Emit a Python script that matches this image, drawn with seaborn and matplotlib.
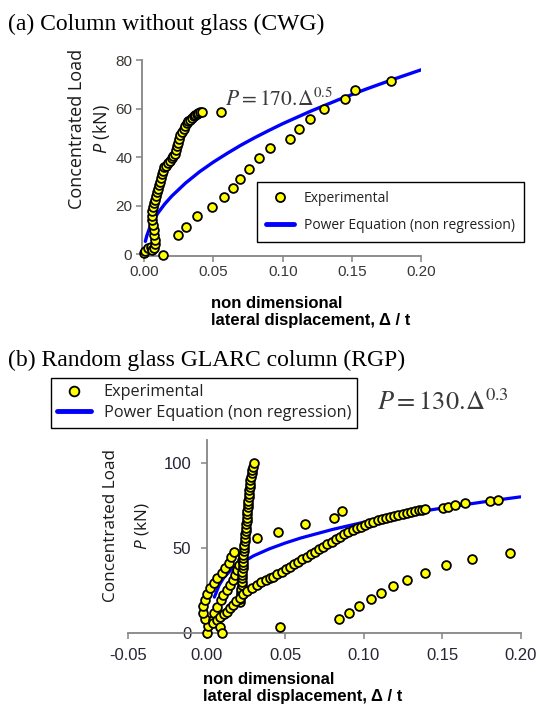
import numpy as np
import pandas as pd
import matplotlib
matplotlib.use("Agg")
import matplotlib.pyplot as plt
import seaborn as sns
from matplotlib import font_manager
from matplotlib.lines import Line2D
from matplotlib.ticker import FormatStrFormatter, FixedLocator

# ---------------- data ----------------
# Panel (a) Column without glass (CWG)
a_load_x = [0.000, 0.001, 0.003, 0.005, 0.006, 0.0075, 0.008, 0.008, 0.0075, 0.007,
            0.0065, 0.0058, 0.0055, 0.0058, 0.0062, 0.007, 0.008, 0.009, 0.0095, 0.0103,
            0.011, 0.0115, 0.012, 0.0127, 0.0135, 0.0145, 0.016, 0.0175, 0.019, 0.020,
            0.0212, 0.0224, 0.023, 0.0236, 0.0242, 0.025, 0.026, 0.0272, 0.0285, 0.0296,
            0.031, 0.032, 0.0335, 0.0344, 0.0358, 0.0368, 0.038, 0.0392, 0.0405, 0.0416]
a_load_y = [0.5, 1.5, 2.5, 3.0, 1.8, 2.5, 4.3, 6.0, 8.0, 10.0,
            12.0, 14.0, 16.0, 18.0, 19.5, 21.0, 22.5, 24.0, 25.5, 27.0,
            28.5, 30.0, 31.5, 33.0, 34.5, 35.8, 36.6, 37.5, 38.5, 39.5,
            40.5, 41.5, 43.0, 44.5, 46.0, 47.5, 49.0, 50.5, 51.8, 53.0,
            54.0, 54.8, 55.5, 56.2, 57.0, 57.4, 57.8, 58.1, 58.5, 58.8]
a_single_x = [0.0557]
a_single_y = [58.6]
a_reload_x = [0.0140, 0.0248, 0.0304, 0.0384, 0.0490, 0.0574, 0.0639, 0.0693, 0.0755,
              0.0829, 0.0908, 0.1052, 0.1114, 0.1200, 0.1300, 0.1448, 0.1522, 0.1780]
a_reload_y = [-0.3, 7.9, 11.5, 15.7, 19.5, 23.6, 27.5, 31.2, 35.3,
              39.6, 43.6, 47.7, 51.7, 55.8, 59.7, 63.8, 67.6, 71.5]
a_power_x = [0.001, 0.002, 0.004, 0.007, 0.01, 0.015, 0.02, 0.03, 0.04, 0.05,
             0.06, 0.07, 0.08, 0.09, 0.10, 0.12, 0.14, 0.16, 0.18, 0.20]
a_power_y = [5.4, 7.6, 10.8, 14.2, 17.0, 20.8, 24.0, 29.4, 34.0, 38.0,
             41.6, 45.0, 48.1, 51.0, 53.8, 58.9, 63.6, 68.0, 72.1, 76.0]
a_xticks = [0.00, 0.05, 0.10, 0.15, 0.20]
a_yticks = [0, 20, 40, 60, 80]

# Panel (b) Random glass GLARC column (RGP)
b_outer_x = [0.0, 0.001, -0.001, -0.002, -0.002, -0.001, 0.0005, 0.0022, 0.0045, 0.0068,
             0.0096, 0.012, 0.0146, 0.0158, 0.0173]
b_outer_y = [0.0, 4.0, 8.0, 11.8, 15.5, 19.3, 23.0, 26.2, 29.2, 32.1,
             35.0, 38.0, 41.3, 44.5, 47.8]
b_inner_x = [0.0039, 0.0048, 0.0069, 0.009, 0.0107, 0.0128, 0.015, 0.0167, 0.0182, 0.0192,
             0.0209, 0.0224]
b_inner_y = [7.5, 11.4, 15.4, 19.3, 22.3, 25.2, 28.2, 31.1, 34.0, 37.0,
             40.0, 42.9]
b_steep_x = [0.0213, 0.0215, 0.0217, 0.0219, 0.0221, 0.0223, 0.0225, 0.0226, 0.0228, 0.0229,
             0.0230, 0.0232, 0.0233, 0.0234, 0.0235,
             0.0237, 0.0239, 0.0241, 0.0243, 0.0245, 0.0247, 0.0250, 0.0252,
             0.0253, 0.0255, 0.0256, 0.0258, 0.0260, 0.0262, 0.0263, 0.0266,
             0.0268, 0.0270, 0.0272, 0.0274, 0.0277, 0.0280, 0.0283, 0.0287, 0.0292, 0.0298, 0.0305]
b_steep_y = [18, 20, 22, 24, 26, 28, 30, 32, 34, 36,
             38, 40, 42, 44, 46,
             48, 50, 52, 54, 56, 58, 60, 62,
             64, 66, 68, 70, 72, 74, 76, 78,
             80, 82, 84, 86, 88, 90, 92, 94, 96, 98, 100]
b_lower_x = [0.004, 0.0065, 0.0086, 0.011, 0.0128, 0.015, 0.0171, 0.019, 0.0213, 0.0235,
             0.026, 0.029, 0.032, 0.035, 0.038, 0.0405, 0.0426, 0.045, 0.048, 0.0505,
             0.0532, 0.056, 0.0585, 0.061, 0.0638, 0.0665, 0.069, 0.0715, 0.0744, 0.077,
             0.0797, 0.0823, 0.085, 0.0877, 0.0903, 0.093, 0.0957, 0.0983, 0.101, 0.1036,
             0.1062, 0.109, 0.1115, 0.1142, 0.1169, 0.1195, 0.1222, 0.1248, 0.1275, 0.130,
             0.1325, 0.135, 0.1372, 0.1392]
b_lower_y = [5.5, 7.5, 9.0, 11.0, 12.5, 14.5, 16.5, 18.5, 20.5, 23.0,
             24.8, 26.5, 28.2, 29.8, 31.3, 32.3, 33.0, 34.5, 36.0, 37.5,
             39.0, 40.5, 42.0, 43.4, 44.9, 46.4, 47.9, 49.3, 50.8, 52.3,
             53.8, 55.3, 56.7, 58.0, 59.2, 60.4, 61.6, 62.6, 63.6, 64.6,
             65.5, 66.3, 67.0, 67.8, 68.5, 69.1, 69.7, 70.3, 70.8, 71.3,
             71.8, 72.2, 72.5, 72.8]
b_tail_x = [0.1508, 0.1540, 0.1583, 0.1646, 0.1806, 0.1859]
b_tail_y = [73.4, 74.4, 75.4, 76.7, 77.9, 78.3]
b_upper_x = [0.0320, 0.0457, 0.0627, 0.0812, 0.0861]
b_upper_y = [55.7, 59.6, 64.2, 67.5, 72.0]
b_right_x = [0.0846, 0.0910, 0.0973, 0.1046, 0.1110, 0.1190, 0.1275, 0.1392, 0.1523, 0.1689, 0.1933]
b_right_y = [8.1, 11.8, 15.8, 19.7, 23.6, 27.6, 31.1, 35.4, 40.0, 43.3, 47.2]
b_misc_x = [0.0085, 0.0096, 0.0468]
b_misc_y = [3.5, -0.4, 3.5]
b_power_x = [0.005, 0.008, 0.011, 0.015, 0.02, 0.03, 0.04, 0.05, 0.06, 0.08,
             0.10, 0.12, 0.14, 0.16, 0.18, 0.20]
b_power_y = [21.0, 28.0, 32.5, 36.5, 40.0, 45.4, 49.5, 52.9, 55.9, 60.9,
             65.2, 68.8, 72.1, 75.0, 77.7, 80.2]
b_xticks = [-0.05, 0.00, 0.05, 0.10, 0.15, 0.20]
b_yticks = [0, 50, 100]

titles = ["(a) Column without glass (CWG)", "(b) Random glass GLARC column (RGP)"]
legend_labels = ["Experimental", "Power Equation (non regression)"]
xlabel_text = "non dimensional\nlateral displacement, \u0394 / t"

# ---------------- style ----------------
sns.set_theme(style="ticks")
plt.rcParams["font.family"] = ["Liberation Sans", "DejaVu Sans"]
plt.rcParams["mathtext.fontset"] = "custom"
plt.rcParams["mathtext.it"] = "Open Sans:italic"
plt.rcParams["mathtext.rm"] = "Open Sans"

W, H = 538, 708
fig = plt.figure(figsize=(W / 100, H / 100), dpi=100)
fig.patch.set_facecolor("white")

def rect(l, t, r, b):
    return [l / W, 1 - b / H, (r - l) / W, (b - t) / H]

YELLOW = "#ffff00"
BLUE = "#0000ff"
SPINE = "#858585"

def style_axes(ax, tick_size, tick_color, pad):
    for s in ["top", "right"]:
        ax.spines[s].set_visible(False)
    for s in ["left", "bottom"]:
        ax.spines[s].set_color(SPINE)
        ax.spines[s].set_linewidth(1.3)
    ax.tick_params(direction="out", length=4, width=1.1, color=SPINE,
                   labelcolor=tick_color, labelsize=tick_size, pad=pad)
    ax.set_xlabel("")
    ax.set_ylabel("")
    ax.set_facecolor("white")

# ---------------- panel (a) ----------------
ax_a = fig.add_axes(rect(141.9, 60, 421.4, 255.7))
df_a = pd.DataFrame({"x": a_load_x + a_single_x + a_reload_x,
                     "y": a_load_y + a_single_y + a_reload_y})
sns.lineplot(x=a_power_x, y=a_power_y, ax=ax_a, color=BLUE, lw=2.4, sort=False,
             zorder=2, legend=False)
sns.scatterplot(data=df_a, x="x", y="y", ax=ax_a, color=YELLOW, edgecolor="black",
                linewidth=1.3, s=40, zorder=3, clip_on=False, legend=False)
ax_a.set_xlim(-0.0015, 0.2)
ax_a.set_ylim(-0.5, 80)
ax_a.xaxis.set_major_locator(FixedLocator(a_xticks))
ax_a.yaxis.set_major_locator(FixedLocator(a_yticks))
ax_a.xaxis.set_major_formatter(FormatStrFormatter("%.2f"))
ax_a.yaxis.set_major_formatter(FormatStrFormatter("%d"))
style_axes(ax_a, 11, "#3a3632", 3)

# ---------------- panel (b) ----------------
ax_b = fig.add_axes(rect(128, 439.6, 520.6, 632.7))
df_b = pd.DataFrame({"x": b_outer_x + b_inner_x + b_steep_x + b_lower_x + b_tail_x
                          + b_upper_x + b_right_x + b_misc_x,
                     "y": b_outer_y + b_inner_y + b_steep_y + b_lower_y + b_tail_y
                          + b_upper_y + b_right_y + b_misc_y})
sns.lineplot(x=b_power_x, y=b_power_y, ax=ax_b, color=BLUE, lw=2.3, sort=False,
             zorder=2, legend=False)
sns.scatterplot(data=df_b, x="x", y="y", ax=ax_b, color=YELLOW, edgecolor="black",
                linewidth=1.3, s=40, zorder=3, clip_on=False, legend=False)
ax_b.set_xlim(-0.05, 0.2)
ax_b.set_ylim(0, 114)
ax_b.spines["left"].set_position(("data", 0))
ax_b.xaxis.set_major_locator(FixedLocator(b_xticks))
ax_b.yaxis.set_major_locator(FixedLocator(b_yticks))
ax_b.xaxis.set_major_formatter(FormatStrFormatter("%.2f"))
ax_b.yaxis.set_major_formatter(FormatStrFormatter("%d"))
style_axes(ax_b, 12, "#252535", 7)

# ---------------- texts ----------------
def fpt(px, py):
    return px / W, 1 - py / H

serif = ["Liberation Serif", "DejaVu Serif"]
fig.text(*fpt(7.5, 30), titles[0], family=serif, fontsize=17, ha="left", va="baseline", color="black")
fig.text(*fpt(7.5, 366), titles[1], family=serif, fontsize=17, ha="left", va="baseline", color="black")

# y labels
ylab_font = ["Open Sans", "DejaVu Sans"]
fig.text(*fpt(77.5, 129), "Concentrated Load", family=ylab_font, fontsize=13, rotation=90,
         ha="center", va="center", rotation_mode="anchor", color="#1a1a1a")
fig.text(*fpt(101.7, 129), "$\\mathit{P}$ (kN)", family=ylab_font, fontsize=13, rotation=90,
         ha="center", va="center", rotation_mode="anchor", color="#1a1a1a")
fig.text(*fpt(111, 526), "Concentrated Load", family=ylab_font, fontsize=12.3, rotation=90,
         ha="center", va="center", rotation_mode="anchor", color="#1a1a1a")
fig.text(*fpt(142, 526), "$\\mathit{P}$ (kN)", family=ylab_font, fontsize=12.3, rotation=90,
         ha="center", va="center", rotation_mode="anchor", color="#1a1a1a")

# x labels
fig.text(*fpt(211, 311.7), xlabel_text, family=["Liberation Sans", "DejaVu Sans"], fontsize=12,
         fontweight="bold", ha="left", va="center", linespacing=1.15, color="black")
fig.text(*fpt(203, 687.8), xlabel_text, family=["Liberation Sans", "DejaVu Sans"], fontsize=12,
         fontweight="bold", ha="left", va="center", linespacing=1.15, color="black")

# equations
fig.text(*fpt(225, 106), "$P = 170.\\!\\Delta^{0.5}$", fontsize=15.5, math_fontfamily="stix",
         ha="left", va="baseline", color="#3a3a3a")
fig.text(*fpt(377, 410), "$P = 130.\\!\\Delta^{0.3}$", fontsize=19, math_fontfamily="stix",
         ha="left", va="baseline", color="#3a3a3a")

# legends
def make_handles(msize, lw):
    return [Line2D([], [], marker="o", linestyle="", markerfacecolor=YELLOW,
                   markeredgecolor="black", markeredgewidth=1.3, markersize=msize),
            Line2D([], [], color=BLUE, lw=lw)]

leg_a = ax_a.legend(make_handles(6.5, 3.5), legend_labels, loc="upper left",
                    bbox_to_anchor=fpt(256.7, 181.7), bbox_transform=fig.transFigure,
                    frameon=True, fancybox=False, framealpha=1, edgecolor="black",
                    prop=font_manager.FontProperties(family="Open Sans", size=10),
                    borderpad=0.65, labelspacing=0.85, handlelength=2.0, handletextpad=0.75,
                    borderaxespad=0)
leg_a.get_frame().set_linewidth(1.0)
for t in leg_a.get_texts():
    t.set_color("#222222")

leg_b = ax_b.legend(make_handles(7, 3.5), legend_labels, loc="upper left",
                    bbox_to_anchor=fpt(50.8, 377.7), bbox_transform=fig.transFigure,
                    frameon=True, fancybox=False, framealpha=1, edgecolor="black",
                    prop=font_manager.FontProperties(family="Open Sans", size=11.7),
                    borderpad=0.4, labelspacing=0.3, handlelength=2.1, handletextpad=0.75,
                    borderaxespad=0)
leg_b.get_frame().set_linewidth(1.0)
for t in leg_b.get_texts():
    t.set_color("#222222")

fig.savefig("out.png", dpi=100, facecolor="white")
